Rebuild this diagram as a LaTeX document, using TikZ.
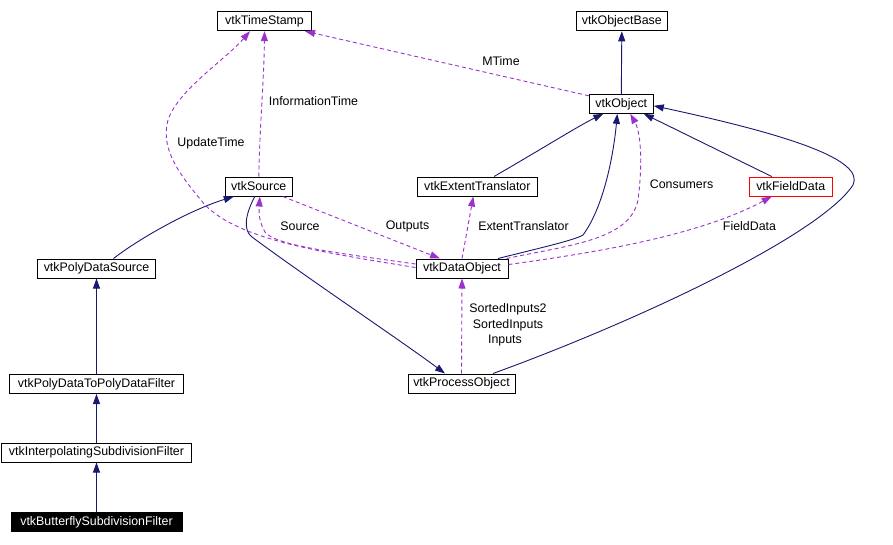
\documentclass[tikz,border=0pt]{standalone}
\usepackage{fontspec}
\setmainfont{Liberation Sans}
\usetikzlibrary{arrows.meta,calc}
\definecolor{navy}{RGB}{25,25,112}
\definecolor{orchid}{RGB}{154,50,205}
\begin{document}
\begin{tikzpicture}[x=1pt,y=-1pt,
 cls/.style={draw=black,line width=1pt,fill=white,minimum height=19pt,inner sep=0pt,font=\fontsize{12.4}{14}\selectfont,text=black},
 lbl/.style={inner sep=0pt,font=\fontsize{12.4}{14}\selectfont},
 inh/.style={draw=navy,line width=0.9pt,-{Triangle[length=10pt,width=7pt]}},
 use/.style={draw=orchid,line width=0.9pt,dash pattern=on 4pt off 3pt,-{Triangle[length=10pt,width=7pt]}}]
\useasboundingbox (0,0) rectangle (893,544);
\fill[white] (0,0) rectangle (893,544);
% classes
\node[cls,minimum width=94pt] (ts) at (264.5,21.2) {vtkTimeStamp};
\node[cls,minimum width=91pt] (ob) at (621.8,21.3) {vtkObjectBase};
\node[cls,minimum width=64pt] (obj) at (621.3,103.8) {vtkObject};
\node[cls,minimum width=67pt] (src) at (258.8,186.5) {vtkSource};
\node[cls,minimum width=120pt] (et) at (477.3,186.5) {vtkExtentTranslator};
\node[cls,draw=red,minimum width=83pt] (fd) at (790.7,186.5) {vtkFieldData};
\node[cls,minimum width=92pt] (do) at (462,268.5) {vtkDataObject};
\node[cls,minimum width=118pt] (pds) at (96.5,268.5) {vtkPolyDataSource};
\node[cls,minimum width=174pt] (pdf) at (96.5,384) {vtkPolyDataToPolyDataFilter};
\node[cls,minimum width=190pt] (isf) at (96.5,452.5) {vtkInterpolatingSubdivisionFilter};
\node[cls,fill=black,text=white,minimum width=171pt] (bsf) at (96.5,522) {vtkButterflySubdivisionFilter};
\node[cls,minimum width=107pt] (po) at (461.5,383.5) {vtkProcessObject};
% inheritance
\draw[inh] (obj.north) -- (ob.south);
\draw[inh] ($(et.north)+(16.7,0)$) .. controls (540,150) and (580,125) .. ($(obj.south)+(-18,0)$);
\draw[inh] ($(do.north)+(36,0)$) .. controls (540,248) and (575,240) .. (583,235) .. controls (605,205) and (614,150) .. ($(obj.south)+(-4,0)$);
\draw[inh] ($(fd.north)+(-19,0)$) -- ($(obj.south east)+(-10,0)$);
\draw[inh] ($(po.north)+(31.5,0)$) .. controls (640,320) and (820,235) .. (853,185) .. controls (865,160) and (790,135) .. ($(obj.east)+(0,2)$);
\draw[inh] ($(pds.north)+(17,0)$) .. controls (140,238) and (190,210) .. ($(src.south)+(-25,0)$);
\draw[inh] (pdf.north) -- (pds.south);
\draw[inh] (isf.north) -- (pdf.south);
\draw[inh] (bsf.north) -- (isf.south);
\draw[inh] ($(src.south)+(-4,0)$) .. controls (245,215) and (243,230) .. (252,237) .. controls (310,280) and (400,340) .. ($(po.north)+(-16.5,0)$);
% usage
\draw[use] ($(obj.north west)+(0,2)$) -- ($(ts.south east)+(-7,0)$);
\draw[use] (src.north) .. controls (260,120) and (264,80) .. (ts.south);
\draw[use] ($(do.west)+(0,-1)$) .. controls (320,252) and (240,240) .. (205,205) .. controls (180,175) and (160,150) .. (168,120) .. controls (178,90) and (225,60) .. ($(ts.south)+(-14.5,0)$);
\draw[use] ($(do.west)+(0,-4.5)$) .. controls (330,252) and (275,245) .. (265,232) .. controls (258,220) and (259,210) .. ($(src.south)+(1,0)$);
\draw[use] ($(src.south)+(24,0)$) -- ($(do.north)+(-22,0)$);
\draw[use] (do.north) -- ($(et.south)+(-4,0)$);
\draw[use] ($(do.north east)+(-2,0)$) .. controls (570,245) and (630,240) .. (638,200) .. controls (642,170) and (642,135) .. ($(obj.south)+(9,0)$);
\draw[use] ($(do.east)+(0,-4)$) .. controls (600,252) and (700,235) .. ($(fd.south)+(-19,0)$);
\draw[use] (po.north) -- (do.south);
% labels
\node[lbl] (lMTime) at (501,61) {MTime};
\node[lbl] (lInfo) at (313.5,101) {InformationTime};
\node[lbl] (lUpd) at (211,143) {UpdateTime};
\node[lbl] (lSrc) at (300,226) {Source};
\node[lbl] (lOut) at (407.5,226) {Outputs};
\node[lbl] (lExt) at (523.5,226) {ExtentTranslator};
\node[lbl] (lCons) at (681.5,184.5) {Consumers};
\node[lbl] (lFD) at (749.5,226) {FieldData};
\node[lbl] (lSI2) at (508,309) {SortedInputs2};
\node[lbl] (lSI) at (508,325) {SortedInputs};
\node[lbl] (lIn) at (505,341) {Inputs};
\end{tikzpicture}
\end{document}
